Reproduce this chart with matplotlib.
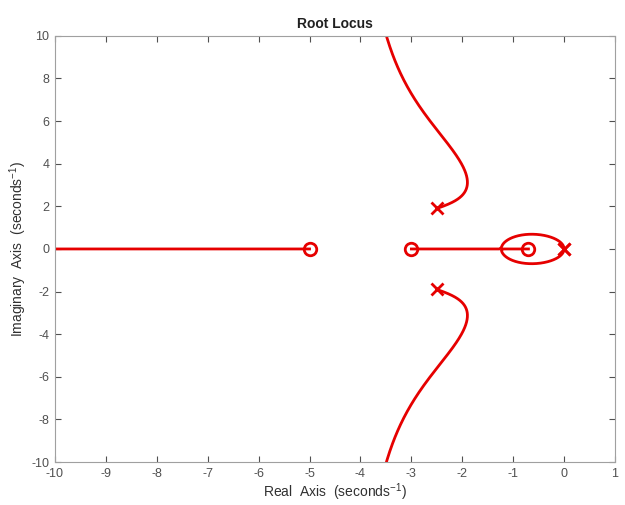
import itertools
import matplotlib
matplotlib.use("Agg")
import matplotlib.pyplot as plt
import numpy as np

plt.rcParams['font.family'] = ['Liberation Sans', 'DejaVu Sans']
plt.rcParams['mathtext.default'] = 'regular'
plt.rcParams['axes.unicode_minus'] = False

# open-loop poles and zeros (pole at -12 sits off to the left of the view)
poles = np.array([0.0, 0.0, -2.5 + 1.9j, -2.5 - 1.9j, -12.0])
zeros = np.array([-0.7, -3.0, -5.0])
gains = np.concatenate([[0.0], np.logspace(-5, 6, 3000)])

x_ticks = np.arange(-10, 2, 1)
y_ticks = np.arange(-10, 12, 2)

den = np.real(np.poly(poles))
num = np.real(np.poly(zeros))
num = np.concatenate([np.zeros(len(den) - len(num)), num])

# follow each branch by matching roots to the previous step
perms = [list(p) for p in itertools.permutations(range(len(poles)))]
branches = [poles.copy()]
for k in gains[1:]:
    r = np.roots(den + k * num)
    prev = branches[-1]
    best = min(perms, key=lambda p: np.sum(np.abs(r[p] - prev)))
    branches.append(r[best])
branches = np.array(branches)

grey = '#505050'
red = '#e60000'

fig = plt.figure(figsize=(6.25, 5.05), dpi=100)
ax = fig.add_axes([0.088, 0.085, 0.896, 0.844])

for i in range(branches.shape[1]):
    ax.plot(branches[:, i].real, branches[:, i].imag, color=red, lw=2)
ax.plot(poles.real, poles.imag, 'x', color=red, ms=8, mew=2)
ax.plot(zeros.real, np.zeros_like(zeros), 'o', color=red, ms=9, mew=2, mfc='none')

ax.set_xlim(-10, 1)
ax.set_ylim(-10, 10)
ax.set_xticks(x_ticks)
ax.set_yticks(y_ticks)
ax.tick_params(direction='in', top=True, right=True, colors=grey,
               labelsize=9, length=4)
ax.tick_params(axis='x', pad=4)
ax.tick_params(axis='y', pad=4)
for sp in ax.spines.values():
    sp.set_color('#a0a0a0')
ax.set_xlabel('Real  Axis  (seconds$^{-1}$)', fontsize=10, color='#303030',
              labelpad=1)
ax.set_ylabel('Imaginary  Axis  (seconds$^{-1}$)', fontsize=10, color='#303030',
              labelpad=2)
ax.set_title('Root Locus', fontsize=10, fontweight='bold', color='#202020')

fig.savefig('out.png', dpi=100)
